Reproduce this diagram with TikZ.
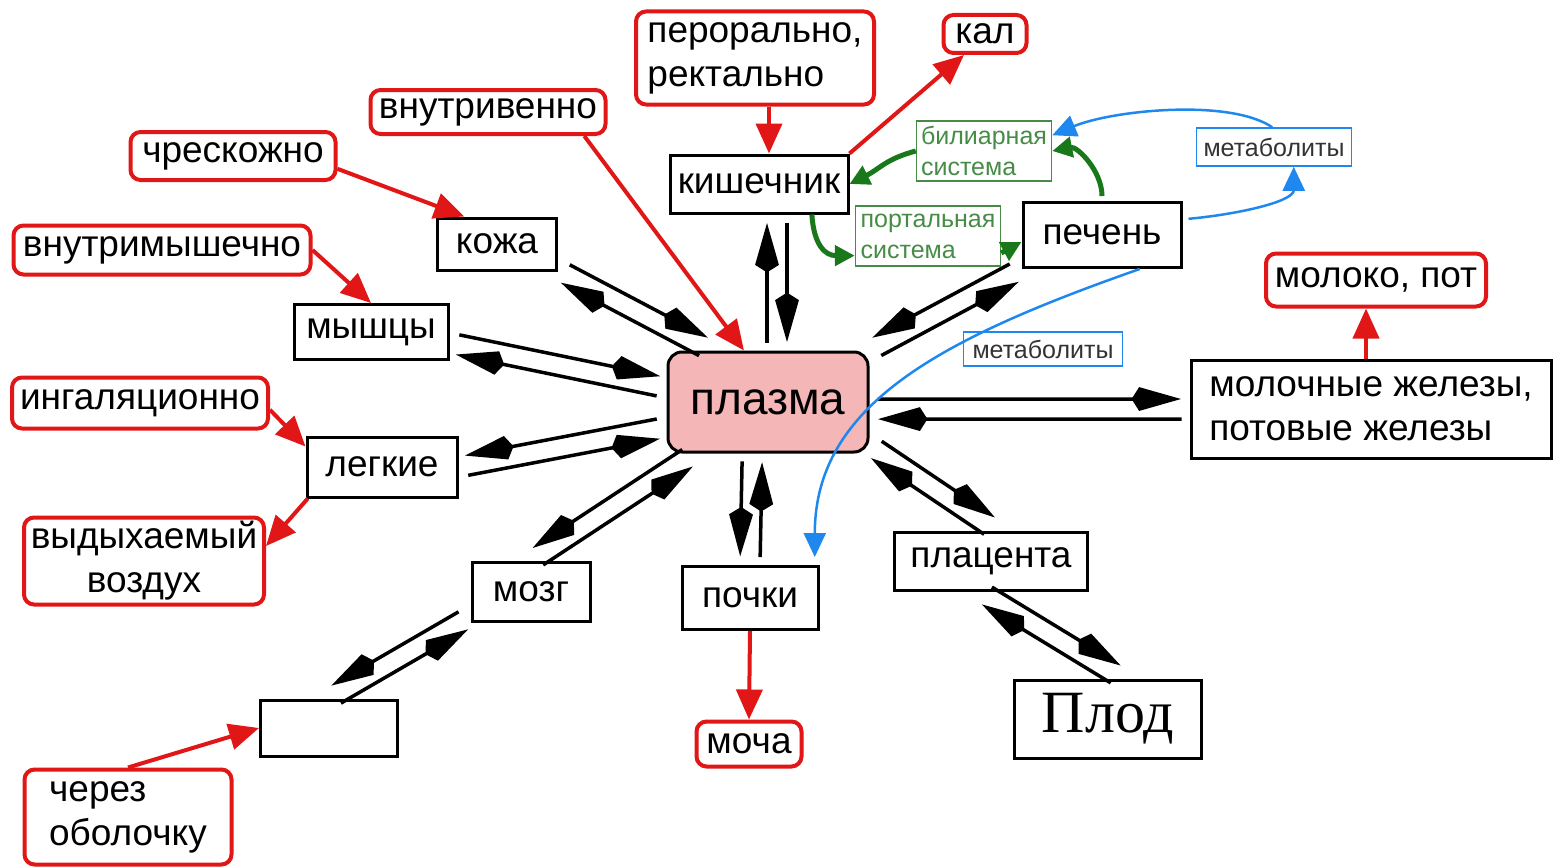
\documentclass[tikz,border=0pt]{standalone}
\usepackage{fontspec}
\setmainfont{Liberation Sans}
\newfontfamily\plodfont{Liberation Serif}
\usetikzlibrary{arrows.meta,calc}
\definecolor{ored}{RGB}{225,22,22}
\definecolor{ogreen}{RGB}{25,120,25}
\definecolor{greentext}{RGB}{70,140,70}
\definecolor{oblue}{RGB}{30,136,238}
\definecolor{opink}{RGB}{244,182,182}
\newcommand\twoway[3]{%
  \draw[flow] ($(#2)!#1*10pt!90:(#3)$) -- ($(#3)!#1*10pt!-90:(#2)$);
  \draw[flow] ($(#3)!#1*10pt!90:(#2)$) -- ($(#2)!#1*10pt!-90:(#3)$);}
\begin{document}
\begin{tikzpicture}[x=1pt,y=-1pt,
  organ/.style={draw,line width=3pt,inner sep=0pt,font=\fontsize{37}{44}\selectfont},
  route/.style={draw=ored,line width=4pt,rounded corners=10pt,inner sep=0pt,font=\fontsize{37}{44}\selectfont},
  sysbox/.style={draw=greentext,line width=1.5pt,text=greentext,inner sep=0pt,align=left,font=\fontsize{25}{31}\selectfont},
  metabox/.style={draw=oblue,line width=1.5pt,text=black!80,inner sep=0pt,font=\fontsize{25}{30}\selectfont},
  flow/.style={line width=3.5pt,-{Stealth[length=42pt,width=22pt,inset=-8pt]},shorten <=8pt,shorten >=8pt},
  redarrow/.style={ored,line width=4pt,-{Triangle[length=30pt,width=26pt]}},
  greenarrow/.style={ogreen,line width=5pt,-{Triangle[length=20pt,width=20pt]}},
  bluearrow/.style={oblue,line width=2.5pt,-{Triangle[length=24pt,width=22pt]}}]
\useasboundingbox (0,0) rectangle (1553,867);
\node[organ,fill=opink,rounded corners=14pt,minimum width=200pt,minimum height=100pt,font=\fontsize{46}{50}\selectfont] (plasma) at (768,402) {плазма};
\node[organ,minimum width=178pt,minimum height=58pt] (kish) at (759,184) {кишечник};
\node[organ,minimum width=119pt,minimum height=52pt] (koza) at (497,244) {кожа};
\node[organ,minimum width=154pt,minimum height=55pt] (myshcy) at (371,332) {мышцы};
\node[organ,minimum width=150pt,minimum height=60pt] (legkie) at (382,467) {легкие};
\node[organ,minimum width=118pt,minimum height=59pt] (mozg) at (531,592) {мозг};
\node[organ,minimum width=137pt,minimum height=56pt] (obol) at (329,728) {};
\node[organ,minimum width=136pt,minimum height=63pt] (pochki) at (750,598) {почки};
\node[organ,minimum width=193pt,minimum height=58pt] (plac) at (991,561) {плацента};
\node[organ,minimum width=187pt,minimum height=78pt,font=\plodfont\fontsize{60}{60}\selectfont] (plod) at (1108,719) {Плод};
\node[organ,minimum width=158pt,minimum height=65pt] (pechen) at (1102,235) {печень};
\node[organ,minimum width=360pt,minimum height=98pt,align=left] (zhelezy) at (1371,409) {молочные железы,\\потовые железы};

\node[route,minimum width=238pt,minimum height=93pt,align=left] (peroral) at (755,58) {перорально,\\ректально};
\node[route,minimum width=83pt,minimum height=38pt] (kal) at (985,34) {кал};
\node[route,minimum width=235pt,minimum height=44pt] (vnutriven) at (488,112) {внутривенно};
\node[route,minimum width=205pt,minimum height=48pt] (chreskozh) at (233,156) {чрескожно};
\node[route,minimum width=297pt,minimum height=49pt] (vnutrimysh) at (162,250) {внутримышечно};
\node[route,minimum width=256pt,minimum height=51pt] (ingal) at (140,403) {ингаляционно};
\node[route,minimum width=240pt,minimum height=87pt,align=center] (vydyh) at (144,561) {выдыхаемый\\воздух};
\node[route,minimum width=207pt,minimum height=95pt,align=left] (cherez) at (128,817) {через\\оболочку};
\node[route,minimum width=220pt,minimum height=53pt] (moloko) at (1376,280) {молоко, пот};
\node[route,minimum width=105pt,minimum height=45pt] (mocha) at (749,744) {моча};

\node[sysbox,minimum width=135pt,minimum height=60pt] (biliar) at (984,151) {билиарная\\система};
\node[sysbox,minimum width=145pt,minimum height=60pt] (portal) at (928,236) {портальная\\система};
\node[metabox,minimum width=155pt,minimum height=38pt] (meta1) at (1274,147) {метаболиты};
\node[metabox,minimum width=159pt,minimum height=34pt] (meta2) at (1043,349) {метаболиты};

\coordinate (kishout) at ([xshift=18pt]kish.south);
\coordinate (plasmatop) at ([xshift=9pt]plasma.north);
\twoway{1}{kishout}{plasmatop}
\twoway{1}{koza.-23}{plasma.138}
\twoway{1}{myshcy.-8}{plasma.172}
\twoway{-1}{legkie.east}{plasma.194}
\twoway{-1}{mozg.north}{plasma.215}
\twoway{-1}{mozg.202}{obol.north}
\twoway{-1}{pochki.north}{plasma.253}
\twoway{1}{plac.80}{plasma.-23}
\twoway{1}{plac.-110}{plod.70}
\twoway{1}{zhelezy.west}{plasma.-4}
\twoway{-1}{pechen.south west}{plasma.north east}

\draw[redarrow] ([xshift=14pt]peroral.south) -- ([xshift=10pt]kish.north);
\draw[redarrow] (kish.north east) -- (kal.-135);
\draw[redarrow] (vnutriven.-14) -- (plasma.115);
\draw[redarrow] (chreskozh.-7) -- (koza.140);
\draw[redarrow] (vnutrimysh.east) -- (myshcy.north);
\draw[redarrow] (ingal.-3) -- (legkie.165);
\draw[redarrow] (legkie.203) -- (vydyh.7);
\draw[redarrow] (cherez.north) -- (obol.west);
\draw[redarrow] (pochki.south) -- (mocha.north);
\draw[redarrow] ([xshift=-5pt]zhelezy.north) -- ([xshift=-10pt]moloko.south);

\draw[greenarrow] (kish.-30) .. controls +(2,30) and +(-30,0) .. (portal.195);
\draw[greenarrow] (portal.-13) -- (pechen.185);
\draw[greenarrow,shorten <=5pt] (pechen.north) .. controls +(0,-30) and +(25,-5) .. (biliar.east);
\draw[greenarrow] (biliar.west) .. controls +(-30,8) and +(30,-15) .. (kish.east);

\draw[bluearrow,shorten <=6pt] (pechen.11) .. controls +(55,-5) and +(0,35) .. (meta1.-45);
\draw[bluearrow] (meta1.95) .. controls +(-43,-29) and +(60,-25) .. (biliar.13);
\draw[bluearrow,shorten >=8pt] (pechen.-42) .. controls +(-200,70) and +(0,-160) .. (pochki.27);
\end{tikzpicture}
\end{document}
